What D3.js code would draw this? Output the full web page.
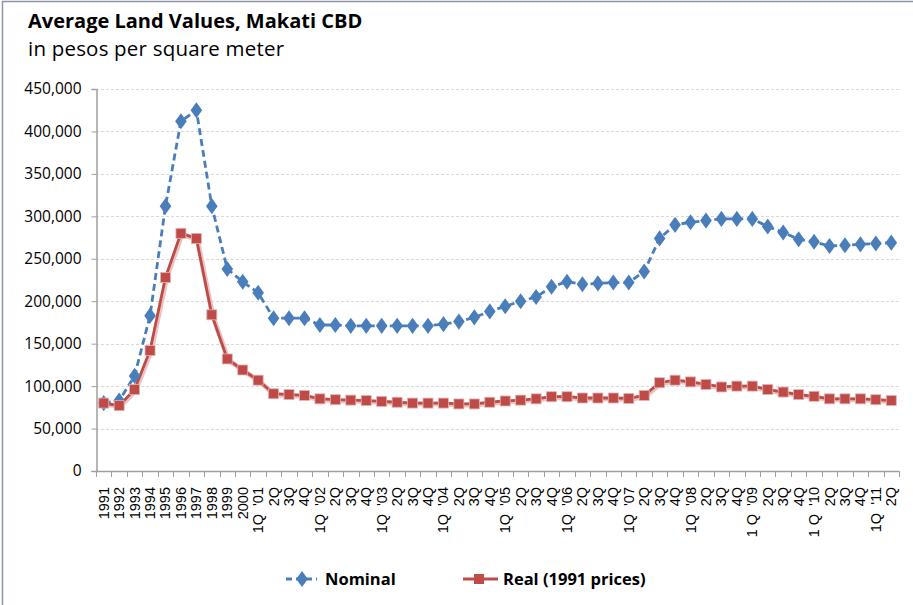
<!DOCTYPE html>
<html>
<head>
<meta charset="utf-8">
<script src="https://cdn.jsdelivr.net/npm/d3@7"></script>
<style>
  body { margin: 0; background: #fff; }
  svg { display: block; }
</style>
</head>
<body>
<svg id="chart" width="913" height="605"></svg>
<script>
// categories: annual 1991-2000, then quarterly 2001 - 2Q 2011
const categories = [
    "1991", "1992", "1993", "1994", "1995", "1996", "1997", "1998", "1999", "2000",
    "1Q '01", "2Q", "3Q", "4Q",
    "1Q '02", "2Q", "3Q", "4Q",
    "1Q '03", "2Q", "3Q", "4Q",
    "1Q '04", "2Q", "3Q", "4Q",
    "1Q '05", "2Q", "3Q", "4Q",
    "1Q '06", "2Q", "3Q", "4Q",
    "1Q '07", "2Q", "3Q", "4Q",
    "1Q '08", "2Q", "3Q", "4Q",
    "1 Q '09", "2Q", "3Q", "4Q",
    "1 Q '10", "2Q", "3Q", "4Q",
    "1Q '11", "2Q"
];

const nominal = [
    80000, 83000, 112000, 183000, 312000, 412000, 425000, 312000, 238000, 223000,
    210000, 180000, 180000, 180000,
    172000, 172000, 171000, 171000,
    171000, 171000, 171000, 171000,
    173000, 176000, 181000, 188000,
    194000, 200000, 205000, 217000,
    223000, 220000, 221000, 222000,
    222000, 235000, 274000, 290000,
    293000, 295000, 297000, 297000,
    297000, 288000, 281000, 273000,
    270000, 265000, 266000, 267000,
    268000, 269000
];

const real = [
    80000, 77000, 96000, 142000, 228000, 280000, 274000, 184000, 132000, 119000,
    107000, 91000, 90000, 89000,
    85000, 84000, 83500, 83000,
    82000, 81000, 80000, 80000,
    80000, 79000, 79000, 81000,
    82500, 83500, 85000, 87500,
    87500, 86000, 86000, 86000,
    85500, 89000, 104000, 107000,
    105000, 102000, 99000, 100000,
    100000, 96000, 93000, 90000,
    88000, 85000, 85000, 85000,
    84000, 83000
];

const yTicks = [0, 50000, 100000, 150000, 200000, 250000, 300000, 350000, 400000, 450000];

const blue = "#4a7ebb";
const red = "#be4b48";
const axisGray = "#a0a0a0";
const uiFont = "'Open Sans', Lato, sans-serif";

const svg = d3.select("#chart");

// outer chart border
svg.append("rect")
    .attr("x", 2.5).attr("y", 1.5)
    .attr("width", 920).attr("height", 620)
    .attr("fill", "none")
    .attr("stroke", "#8d93a8")
    .attr("stroke-width", 1.5);

// title
svg.append("text")
    .attr("x", 28).attr("y", 27.5)
    .attr("font-family", uiFont)
    .attr("font-size", 20)
    .attr("font-weight", "bold")
    .attr("fill", "#000")
    .text("Average Land Values, Makati CBD");

svg.append("text")
    .attr("x", 28).attr("y", 55.5)
    .attr("font-family", uiFont)
    .attr("font-size", 20.5)
    .attr("letter-spacing", 0.2)
    .attr("fill", "#000")
    .text("in pesos per square meter");

const plotLeft = 96, plotRight = 899, plotTop = 89, plotBottom = 471;

const x = d3.scaleBand()
    .domain(d3.range(categories.length))
    .range([plotLeft, plotRight]);

const y = d3.scaleLinear()
    .domain([0, 450000])
    .range([plotBottom, plotTop]);

// gridlines
svg.append("g")
    .selectAll("line")
    .data(yTicks.slice(1))
    .enter()
    .append("line")
    .attr("x1", plotLeft).attr("x2", plotRight + 2)
    .attr("y1", d => Math.round(y(d)) + 0.5)
    .attr("y2", d => Math.round(y(d)) + 0.5)
    .attr("stroke", "#d9d9d9")
    .attr("stroke-dasharray", "3,2");

// y axis
const yAxis = svg.append("g")
    .attr("transform", `translate(${plotLeft + 0.5},0)`)
    .call(d3.axisLeft(y).tickValues(yTicks).tickSize(5).tickPadding(10)
        .tickFormat(d3.format(",")));
yAxis.select(".domain").attr("stroke", axisGray).attr("stroke-width", 1.5);
yAxis.selectAll(".tick line").attr("stroke", axisGray);
yAxis.selectAll("text")
    .attr("font-family", uiFont)
    .attr("font-size", 15.5)
    .attr("fill", "#000");

// x axis: ticks at category boundaries
const xg = svg.append("g");
xg.append("line")
    .attr("x1", plotLeft).attr("x2", plotRight)
    .attr("y1", plotBottom + 0.5).attr("y2", plotBottom + 0.5)
    .attr("stroke", axisGray).attr("stroke-width", 1.5);
xg.selectAll("line.tk")
    .data(d3.range(categories.length + 1))
    .enter()
    .append("line")
    .attr("class", "tk")
    .attr("x1", d => Math.round(plotLeft + d * x.step()) + 0.5)
    .attr("x2", d => Math.round(plotLeft + d * x.step()) + 0.5)
    .attr("y1", plotBottom).attr("y2", plotBottom + 6)
    .attr("stroke", axisGray);
xg.selectAll("text")
    .data(categories)
    .enter()
    .append("text")
    .attr("transform", (d, i) => `translate(${x(i) + x.bandwidth() / 2 + 5},${plotBottom + 16}) rotate(-90)`)
    .attr("text-anchor", "end")
    .attr("font-family", "'Liberation Sans', Arial, sans-serif")
    .attr("font-size", 14.5)
    .attr("fill", "#000")
    .style("white-space", "pre")
    .text(d => d.replace(" '", "  '"));

const cx = i => x(i) + x.bandwidth() / 2;

const line = d3.line()
    .x((d, i) => cx(i))
    .y(d => y(d));

// real series shadow, then nominal, then real on top
svg.append("path")
    .datum(real)
    .attr("fill", "none")
    .attr("stroke", "#e9c4c3")
    .attr("stroke-width", 5)
    .attr("transform", "translate(1,1)")
    .attr("d", line);
svg.append("path")
    .datum(nominal)
    .attr("fill", "none")
    .attr("stroke", blue)
    .attr("stroke-width", 2.8)
    .attr("stroke-dasharray", "7,4")
    .attr("d", line);
svg.append("path")
    .datum(real)
    .attr("fill", "none")
    .attr("stroke", red)
    .attr("stroke-width", 2.8)
    .attr("d", line);

const diamond = d3.symbol().type(d3.symbolDiamond).size(75);
svg.append("g")
    .selectAll("path")
    .data(nominal)
    .enter()
    .append("path")
    .attr("transform", (d, i) => `translate(${cx(i)},${y(d)}) scale(1.25,1)`)
    .attr("d", diamond)
    .attr("fill", blue);

svg.append("g")
    .selectAll("rect")
    .data(real)
    .enter()
    .append("rect")
    .attr("x", (d, i) => cx(i) - 5)
    .attr("y", d => y(d) - 5)
    .attr("width", 10).attr("height", 10)
    .attr("fill", red)
    .attr("stroke", "#e3b3b2")
    .attr("stroke-width", 0.8);

// legend
const legend = svg.append("g");
legend.append("line")
    .attr("x1", 286).attr("x2", 317).attr("y1", 579).attr("y2", 579)
    .attr("stroke", blue).attr("stroke-width", 2.8).attr("stroke-dasharray", "6,4");
legend.append("path")
    .attr("transform", "translate(302,579) scale(1.25,1)")
    .attr("d", diamond).attr("fill", blue);
legend.append("text")
    .attr("x", 325).attr("y", 585)
    .attr("font-family", uiFont)
    .attr("font-size", 16.5).attr("font-weight", "bold")
    .text("Nominal");

legend.append("line")
    .attr("x1", 463).attr("x2", 498).attr("y1", 579).attr("y2", 579)
    .attr("stroke", red).attr("stroke-width", 2.8);
legend.append("rect")
    .attr("x", 474).attr("y", 574).attr("width", 10).attr("height", 10)
    .attr("fill", red);
legend.append("text")
    .attr("x", 503).attr("y", 585)
    .attr("font-family", uiFont)
    .attr("font-size", 16.5).attr("font-weight", "bold")
    .text("Real (1991 prices)");
</script>
</body>
</html>
